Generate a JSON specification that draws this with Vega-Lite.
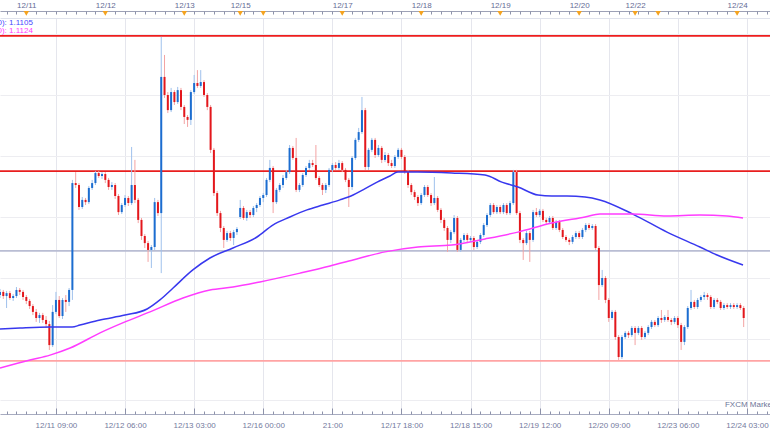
{
 "$schema": "https://vega.github.io/schema/vega-lite/v6.json",
 "width": 770, "height": 396,
 "autosize": {"type": "none"},
 "padding": {"left": 0, "right": 0, "top": 18, "bottom": 19},
 "background": "#ffffff",
 "config": {"view": {"stroke": null}, "font": "Liberation Sans"},
 "datasets": {
  "candles": [
{"i":-17,"o":1.10930,"h":1.10955,"l":1.10918,"c":1.10943},
{"i":-16,"o":1.10943,"h":1.10951,"l":1.10914,"c":1.10926},
{"i":-15,"o":1.10926,"h":1.10947,"l":1.10877,"c":1.10938},
{"i":-14,"o":1.10938,"h":1.10947,"l":1.10910,"c":1.10918},
{"i":-13,"o":1.10918,"h":1.10934,"l":1.10906,"c":1.10926},
{"i":-12,"o":1.10926,"h":1.10963,"l":1.10918,"c":1.10951},
{"i":-11,"o":1.10951,"h":1.10959,"l":1.10930,"c":1.10943},
{"i":-10,"o":1.10943,"h":1.10951,"l":1.10910,"c":1.10922},
{"i":-9,"o":1.10922,"h":1.10930,"l":1.10893,"c":1.10906},
{"i":-8,"o":1.10906,"h":1.10914,"l":1.10873,"c":1.10885},
{"i":-7,"o":1.10885,"h":1.10893,"l":1.10848,"c":1.10861},
{"i":-6,"o":1.10861,"h":1.10873,"l":1.10820,"c":1.10836},
{"i":-5,"o":1.10836,"h":1.10857,"l":1.10816,"c":1.10848},
{"i":-4,"o":1.10848,"h":1.10857,"l":1.10816,"c":1.10828},
{"i":-3,"o":1.10828,"h":1.10844,"l":1.10795,"c":1.10811},
{"i":-2,"o":1.10811,"h":1.10824,"l":1.10705,"c":1.10725},
{"i":-1,"o":1.10725,"h":1.10889,"l":1.10717,"c":1.10861},
{"i":0,"o":1.10861,"h":1.10943,"l":1.10852,"c":1.10910},
{"i":1,"o":1.10910,"h":1.10926,"l":1.10836,"c":1.10844},
{"i":2,"o":1.10844,"h":1.10918,"l":1.10832,"c":1.10910},
{"i":3,"o":1.10910,"h":1.10930,"l":1.10861,"c":1.10902},
{"i":4,"o":1.10902,"h":1.10959,"l":1.10885,"c":1.10951},
{"i":5,"o":1.10951,"h":1.11402,"l":1.10910,"c":1.11389},
{"i":6,"o":1.11389,"h":1.11434,"l":1.11369,"c":1.11381},
{"i":7,"o":1.11381,"h":1.11389,"l":1.11279,"c":1.11291},
{"i":8,"o":1.11291,"h":1.11332,"l":1.11283,"c":1.11320},
{"i":9,"o":1.11320,"h":1.11328,"l":1.11299,"c":1.11311},
{"i":10,"o":1.11311,"h":1.11377,"l":1.11303,"c":1.11369},
{"i":11,"o":1.11369,"h":1.11402,"l":1.11361,"c":1.11389},
{"i":12,"o":1.11389,"h":1.11438,"l":1.11381,"c":1.11430},
{"i":13,"o":1.11430,"h":1.11438,"l":1.11410,"c":1.11418},
{"i":14,"o":1.11418,"h":1.11434,"l":1.11406,"c":1.11426},
{"i":15,"o":1.11426,"h":1.11434,"l":1.11389,"c":1.11402},
{"i":16,"o":1.11402,"h":1.11410,"l":1.11361,"c":1.11373},
{"i":17,"o":1.11373,"h":1.11393,"l":1.11361,"c":1.11381},
{"i":18,"o":1.11381,"h":1.11389,"l":1.11324,"c":1.11336},
{"i":19,"o":1.11336,"h":1.11344,"l":1.11258,"c":1.11270},
{"i":20,"o":1.11270,"h":1.11307,"l":1.11262,"c":1.11299},
{"i":21,"o":1.11299,"h":1.11340,"l":1.11291,"c":1.11328},
{"i":22,"o":1.11328,"h":1.11336,"l":1.11295,"c":1.11307},
{"i":23,"o":1.11307,"h":1.11537,"l":1.11299,"c":1.11381},
{"i":24,"o":1.11381,"h":1.11484,"l":1.11307,"c":1.11320},
{"i":25,"o":1.11320,"h":1.11328,"l":1.11225,"c":1.11238},
{"i":26,"o":1.11238,"h":1.11246,"l":1.11156,"c":1.11172},
{"i":27,"o":1.11172,"h":1.11180,"l":1.11123,"c":1.11143},
{"i":28,"o":1.11143,"h":1.11152,"l":1.11066,"c":1.11115},
{"i":29,"o":1.11115,"h":1.11135,"l":1.11041,"c":1.11127},
{"i":30,"o":1.11127,"h":1.11328,"l":1.11115,"c":1.11311},
{"i":31,"o":1.11311,"h":1.11320,"l":1.11254,"c":1.11266},
{"i":32,"o":1.11266,"h":1.11988,"l":1.11020,"c":1.11824},
{"i":33,"o":1.11824,"h":1.11914,"l":1.11738,"c":1.11750},
{"i":34,"o":1.11750,"h":1.11762,"l":1.11676,"c":1.11688},
{"i":35,"o":1.11688,"h":1.11779,"l":1.11680,"c":1.11762},
{"i":36,"o":1.11762,"h":1.11770,"l":1.11709,"c":1.11721},
{"i":37,"o":1.11721,"h":1.11783,"l":1.11713,"c":1.11770},
{"i":38,"o":1.11770,"h":1.11779,"l":1.11688,"c":1.11701},
{"i":39,"o":1.11701,"h":1.11709,"l":1.11631,"c":1.11660},
{"i":40,"o":1.11660,"h":1.11668,"l":1.11619,"c":1.11648},
{"i":41,"o":1.11648,"h":1.11770,"l":1.11627,"c":1.11762},
{"i":42,"o":1.11762,"h":1.11832,"l":1.11754,"c":1.11799},
{"i":43,"o":1.11799,"h":1.11852,"l":1.11779,"c":1.11787},
{"i":44,"o":1.11787,"h":1.11852,"l":1.11779,"c":1.11803},
{"i":45,"o":1.11803,"h":1.11811,"l":1.11742,"c":1.11750},
{"i":46,"o":1.11750,"h":1.11758,"l":1.11688,"c":1.11701},
{"i":47,"o":1.11701,"h":1.11709,"l":1.11512,"c":1.11525},
{"i":48,"o":1.11525,"h":1.11533,"l":1.11336,"c":1.11348},
{"i":49,"o":1.11348,"h":1.11357,"l":1.11254,"c":1.11266},
{"i":50,"o":1.11266,"h":1.11275,"l":1.11188,"c":1.11205},
{"i":51,"o":1.11205,"h":1.11213,"l":1.11123,"c":1.11156},
{"i":52,"o":1.11156,"h":1.11193,"l":1.11148,"c":1.11184},
{"i":53,"o":1.11184,"h":1.11193,"l":1.11152,"c":1.11164},
{"i":54,"o":1.11164,"h":1.11197,"l":1.11135,"c":1.11188},
{"i":55,"o":1.11188,"h":1.11209,"l":1.11176,"c":1.11201},
{"i":56,"o":1.11250,"h":1.11320,"l":1.11242,"c":1.11287},
{"i":57,"o":1.11287,"h":1.11295,"l":1.11238,"c":1.11246},
{"i":58,"o":1.11246,"h":1.11279,"l":1.11234,"c":1.11270},
{"i":59,"o":1.11270,"h":1.11279,"l":1.11246,"c":1.11258},
{"i":60,"o":1.11258,"h":1.11295,"l":1.11250,"c":1.11287},
{"i":61,"o":1.11287,"h":1.11307,"l":1.11270,"c":1.11299},
{"i":62,"o":1.11299,"h":1.11336,"l":1.11291,"c":1.11328},
{"i":63,"o":1.11328,"h":1.11348,"l":1.11311,"c":1.11340},
{"i":64,"o":1.11340,"h":1.11410,"l":1.11332,"c":1.11402},
{"i":65,"o":1.11402,"h":1.11484,"l":1.11393,"c":1.11451},
{"i":66,"o":1.11451,"h":1.11459,"l":1.11266,"c":1.11311},
{"i":67,"o":1.11311,"h":1.11369,"l":1.11303,"c":1.11361},
{"i":68,"o":1.11361,"h":1.11389,"l":1.11352,"c":1.11381},
{"i":69,"o":1.11381,"h":1.11422,"l":1.11369,"c":1.11410},
{"i":70,"o":1.11410,"h":1.11443,"l":1.11402,"c":1.11434},
{"i":71,"o":1.11434,"h":1.11545,"l":1.11426,"c":1.11533},
{"i":72,"o":1.11533,"h":1.11541,"l":1.11484,"c":1.11492},
{"i":73,"o":1.11492,"h":1.11574,"l":1.11352,"c":1.11361},
{"i":74,"o":1.11361,"h":1.11389,"l":1.11352,"c":1.11381},
{"i":75,"o":1.11381,"h":1.11430,"l":1.11373,"c":1.11422},
{"i":76,"o":1.11422,"h":1.11459,"l":1.11414,"c":1.11451},
{"i":77,"o":1.11451,"h":1.11484,"l":1.11443,"c":1.11471},
{"i":78,"o":1.11471,"h":1.11484,"l":1.11455,"c":1.11463},
{"i":79,"o":1.11463,"h":1.11545,"l":1.11402,"c":1.11410},
{"i":80,"o":1.11410,"h":1.11418,"l":1.11373,"c":1.11381},
{"i":81,"o":1.11381,"h":1.11389,"l":1.11340,"c":1.11361},
{"i":82,"o":1.11361,"h":1.11389,"l":1.11348,"c":1.11381},
{"i":83,"o":1.11381,"h":1.11451,"l":1.11373,"c":1.11443},
{"i":84,"o":1.11443,"h":1.11471,"l":1.11434,"c":1.11463},
{"i":85,"o":1.11463,"h":1.11475,"l":1.11443,"c":1.11451},
{"i":86,"o":1.11451,"h":1.11484,"l":1.11443,"c":1.11471},
{"i":87,"o":1.11471,"h":1.11479,"l":1.11434,"c":1.11443},
{"i":88,"o":1.11443,"h":1.11451,"l":1.11393,"c":1.11402},
{"i":89,"o":1.11402,"h":1.11410,"l":1.11291,"c":1.11373},
{"i":90,"o":1.11373,"h":1.11500,"l":1.11361,"c":1.11492},
{"i":91,"o":1.11492,"h":1.11574,"l":1.11484,"c":1.11566},
{"i":92,"o":1.11566,"h":1.11615,"l":1.11557,"c":1.11598},
{"i":93,"o":1.11598,"h":1.11742,"l":1.11590,"c":1.11688},
{"i":94,"o":1.11688,"h":1.11697,"l":1.11443,"c":1.11455},
{"i":95,"o":1.11455,"h":1.11533,"l":1.11443,"c":1.11525},
{"i":96,"o":1.11525,"h":1.11574,"l":1.11516,"c":1.11566},
{"i":97,"o":1.11566,"h":1.11574,"l":1.11492,"c":1.11504},
{"i":98,"o":1.11504,"h":1.11545,"l":1.11496,"c":1.11533},
{"i":99,"o":1.11533,"h":1.11541,"l":1.11471,"c":1.11484},
{"i":100,"o":1.11484,"h":1.11516,"l":1.11475,"c":1.11504},
{"i":101,"o":1.11504,"h":1.11512,"l":1.11459,"c":1.11471},
{"i":102,"o":1.11471,"h":1.11484,"l":1.11451,"c":1.11459},
{"i":103,"o":1.11459,"h":1.11504,"l":1.11451,"c":1.11496},
{"i":104,"o":1.11496,"h":1.11533,"l":1.11488,"c":1.11525},
{"i":105,"o":1.11525,"h":1.11533,"l":1.11488,"c":1.11496},
{"i":106,"o":1.11496,"h":1.11504,"l":1.11426,"c":1.11434},
{"i":107,"o":1.11434,"h":1.11443,"l":1.11369,"c":1.11381},
{"i":108,"o":1.11381,"h":1.11389,"l":1.11340,"c":1.11352},
{"i":109,"o":1.11352,"h":1.11361,"l":1.11320,"c":1.11332},
{"i":110,"o":1.11332,"h":1.11340,"l":1.11295,"c":1.11307},
{"i":111,"o":1.11307,"h":1.11348,"l":1.11299,"c":1.11340},
{"i":112,"o":1.11340,"h":1.11381,"l":1.11332,"c":1.11373},
{"i":113,"o":1.11373,"h":1.11381,"l":1.11332,"c":1.11340},
{"i":114,"o":1.11340,"h":1.11348,"l":1.11295,"c":1.11307},
{"i":115,"o":1.11307,"h":1.11414,"l":1.11299,"c":1.11328},
{"i":116,"o":1.11328,"h":1.11336,"l":1.11270,"c":1.11279},
{"i":117,"o":1.11279,"h":1.11287,"l":1.11225,"c":1.11238},
{"i":118,"o":1.11238,"h":1.11246,"l":1.11193,"c":1.11205},
{"i":119,"o":1.11205,"h":1.11213,"l":1.11107,"c":1.11156},
{"i":120,"o":1.11156,"h":1.11197,"l":1.11143,"c":1.11188},
{"i":121,"o":1.11188,"h":1.11258,"l":1.11180,"c":1.11246},
{"i":122,"o":1.11246,"h":1.11254,"l":1.11107,"c":1.11115},
{"i":123,"o":1.11115,"h":1.11164,"l":1.11107,"c":1.11156},
{"i":124,"o":1.11156,"h":1.11184,"l":1.11148,"c":1.11176},
{"i":125,"o":1.11176,"h":1.11184,"l":1.11143,"c":1.11156},
{"i":126,"o":1.11156,"h":1.11172,"l":1.11148,"c":1.11164},
{"i":127,"o":1.11164,"h":1.11172,"l":1.11115,"c":1.11127},
{"i":128,"o":1.11127,"h":1.11156,"l":1.11119,"c":1.11148},
{"i":129,"o":1.11148,"h":1.11184,"l":1.11139,"c":1.11176},
{"i":130,"o":1.11176,"h":1.11225,"l":1.11168,"c":1.11217},
{"i":131,"o":1.11217,"h":1.11266,"l":1.11209,"c":1.11258},
{"i":132,"o":1.11258,"h":1.11307,"l":1.11250,"c":1.11299},
{"i":133,"o":1.11299,"h":1.11307,"l":1.11262,"c":1.11270},
{"i":134,"o":1.11270,"h":1.11299,"l":1.11262,"c":1.11291},
{"i":135,"o":1.11291,"h":1.11299,"l":1.11262,"c":1.11270},
{"i":136,"o":1.11270,"h":1.11307,"l":1.11262,"c":1.11299},
{"i":137,"o":1.11299,"h":1.11307,"l":1.11258,"c":1.11266},
{"i":138,"o":1.11266,"h":1.11316,"l":1.11258,"c":1.11307},
{"i":139,"o":1.11307,"h":1.11443,"l":1.11299,"c":1.11434},
{"i":140,"o":1.11434,"h":1.11443,"l":1.11258,"c":1.11266},
{"i":141,"o":1.11266,"h":1.11275,"l":1.11143,"c":1.11156},
{"i":142,"o":1.11156,"h":1.11164,"l":1.11074,"c":1.11143},
{"i":143,"o":1.11143,"h":1.11193,"l":1.11135,"c":1.11184},
{"i":144,"o":1.11184,"h":1.11193,"l":1.11066,"c":1.11156},
{"i":145,"o":1.11156,"h":1.11279,"l":1.11148,"c":1.11270},
{"i":146,"o":1.11270,"h":1.11287,"l":1.11250,"c":1.11258},
{"i":147,"o":1.11258,"h":1.11283,"l":1.11250,"c":1.11275},
{"i":148,"o":1.11275,"h":1.11283,"l":1.11229,"c":1.11238},
{"i":149,"o":1.11238,"h":1.11246,"l":1.11217,"c":1.11229},
{"i":150,"o":1.11229,"h":1.11254,"l":1.11221,"c":1.11246},
{"i":151,"o":1.11246,"h":1.11254,"l":1.11197,"c":1.11205},
{"i":152,"o":1.11205,"h":1.11238,"l":1.11197,"c":1.11229},
{"i":153,"o":1.11229,"h":1.11238,"l":1.11188,"c":1.11197},
{"i":154,"o":1.11197,"h":1.11205,"l":1.11160,"c":1.11168},
{"i":155,"o":1.11168,"h":1.11176,"l":1.11148,"c":1.11156},
{"i":156,"o":1.11156,"h":1.11164,"l":1.11135,"c":1.11148},
{"i":157,"o":1.11148,"h":1.11176,"l":1.11139,"c":1.11168},
{"i":158,"o":1.11168,"h":1.11193,"l":1.11160,"c":1.11184},
{"i":159,"o":1.11184,"h":1.11193,"l":1.11160,"c":1.11168},
{"i":160,"o":1.11168,"h":1.11205,"l":1.11160,"c":1.11197},
{"i":161,"o":1.11197,"h":1.11225,"l":1.11188,"c":1.11217},
{"i":162,"o":1.11217,"h":1.11225,"l":1.11197,"c":1.11205},
{"i":163,"o":1.11205,"h":1.11221,"l":1.11197,"c":1.11213},
{"i":164,"o":1.11213,"h":1.11221,"l":1.11115,"c":1.11123},
{"i":165,"o":1.11123,"h":1.11131,"l":1.10910,"c":1.10971},
{"i":166,"o":1.10971,"h":1.11033,"l":1.10963,"c":1.11000},
{"i":167,"o":1.11000,"h":1.11008,"l":1.10897,"c":1.10910},
{"i":168,"o":1.10910,"h":1.10918,"l":1.10820,"c":1.10836},
{"i":169,"o":1.10836,"h":1.10869,"l":1.10828,"c":1.10861},
{"i":170,"o":1.10861,"h":1.10869,"l":1.10746,"c":1.10758},
{"i":171,"o":1.10758,"h":1.10766,"l":1.10664,"c":1.10676},
{"i":172,"o":1.10676,"h":1.10766,"l":1.10668,"c":1.10758},
{"i":173,"o":1.10758,"h":1.10783,"l":1.10750,"c":1.10775},
{"i":174,"o":1.10775,"h":1.10783,"l":1.10754,"c":1.10766},
{"i":175,"o":1.10766,"h":1.10803,"l":1.10758,"c":1.10795},
{"i":176,"o":1.10795,"h":1.10803,"l":1.10725,"c":1.10775},
{"i":177,"o":1.10775,"h":1.10803,"l":1.10766,"c":1.10795},
{"i":178,"o":1.10795,"h":1.10803,"l":1.10746,"c":1.10758},
{"i":179,"o":1.10758,"h":1.10783,"l":1.10750,"c":1.10775},
{"i":180,"o":1.10775,"h":1.10807,"l":1.10766,"c":1.10799},
{"i":181,"o":1.10799,"h":1.10828,"l":1.10791,"c":1.10820},
{"i":182,"o":1.10820,"h":1.10828,"l":1.10799,"c":1.10807},
{"i":183,"o":1.10807,"h":1.10844,"l":1.10799,"c":1.10836},
{"i":184,"o":1.10836,"h":1.10869,"l":1.10816,"c":1.10828},
{"i":185,"o":1.10828,"h":1.10848,"l":1.10820,"c":1.10840},
{"i":186,"o":1.10840,"h":1.10869,"l":1.10820,"c":1.10828},
{"i":187,"o":1.10828,"h":1.10836,"l":1.10807,"c":1.10820},
{"i":188,"o":1.10820,"h":1.10844,"l":1.10811,"c":1.10836},
{"i":189,"o":1.10836,"h":1.10844,"l":1.10795,"c":1.10807},
{"i":190,"o":1.10807,"h":1.10816,"l":1.10705,"c":1.10738},
{"i":191,"o":1.10738,"h":1.10807,"l":1.10725,"c":1.10799},
{"i":192,"o":1.10799,"h":1.10885,"l":1.10791,"c":1.10877},
{"i":193,"o":1.10877,"h":1.10951,"l":1.10869,"c":1.10902},
{"i":194,"o":1.10902,"h":1.10910,"l":1.10873,"c":1.10881},
{"i":195,"o":1.10881,"h":1.10918,"l":1.10873,"c":1.10910},
{"i":196,"o":1.10910,"h":1.10930,"l":1.10902,"c":1.10922},
{"i":197,"o":1.10922,"h":1.10943,"l":1.10910,"c":1.10930},
{"i":198,"o":1.10930,"h":1.10938,"l":1.10910,"c":1.10922},
{"i":199,"o":1.10922,"h":1.10930,"l":1.10873,"c":1.10881},
{"i":200,"o":1.10881,"h":1.10918,"l":1.10873,"c":1.10910},
{"i":201,"o":1.10910,"h":1.10918,"l":1.10893,"c":1.10902},
{"i":202,"o":1.10902,"h":1.10910,"l":1.10869,"c":1.10877},
{"i":203,"o":1.10877,"h":1.10897,"l":1.10869,"c":1.10889},
{"i":204,"o":1.10889,"h":1.10897,"l":1.10873,"c":1.10881},
{"i":205,"o":1.10881,"h":1.10897,"l":1.10873,"c":1.10889},
{"i":206,"o":1.10889,"h":1.10897,"l":1.10873,"c":1.10881},
{"i":207,"o":1.10881,"h":1.10897,"l":1.10873,"c":1.10889},
{"i":208,"o":1.10889,"h":1.10897,"l":1.10869,"c":1.10877},
{"i":209,"o":1.10877,"h":1.10885,"l":1.10799,"c":1.10836}
  ],
  "ma100": [
{"i":-17,"v":1.10791},{"i":-10.9,"v":1.10795},{"i":-1.8,"v":1.10799},{"i":4.9,"v":1.10799},{"i":7.3,"v":1.10807},{"i":13.4,"v":1.10828},{"i":21,"v":1.10848},{"i":27.7,"v":1.10873},{"i":31.6,"v":1.10910},{"i":35.6,"v":1.10959},{"i":41.6,"v":1.11033},{"i":46.8,"v":1.11082},{"i":53.8,"v":1.11123},{"i":61.1,"v":1.11168},{"i":65.9,"v":1.11217},{"i":71.1,"v":1.11250},{"i":76.3,"v":1.11279},{"i":81.1,"v":1.11299},{"i":86.3,"v":1.11320},{"i":90.3,"v":1.11340},{"i":93.3,"v":1.11361},{"i":97.6,"v":1.11393},{"i":101.5,"v":1.11418},{"i":103.9,"v":1.11434},{"i":110,"v":1.11434},{"i":120.3,"v":1.11430},{"i":130.4,"v":1.11422},{"i":135.5,"v":1.11393},{"i":140.4,"v":1.11373},{"i":146.5,"v":1.11340},{"i":150.7,"v":1.11336},{"i":155.3,"v":1.11336},{"i":160.8,"v":1.11332},{"i":165.3,"v":1.11320},{"i":175.3,"v":1.11262},{"i":185.7,"v":1.11188},{"i":195.7,"v":1.11127},{"i":200.9,"v":1.11094},{"i":208.8,"v":1.11053}
  ],
  "ma200": [
{"i":-17,"v":1.10631},{"i":-7.9,"v":1.10664},{"i":-1.8,"v":1.10684},{"i":4.3,"v":1.10713},{"i":13.4,"v":1.10775},{"i":21,"v":1.10820},{"i":28.6,"v":1.10861},{"i":38.6,"v":1.10918},{"i":46.8,"v":1.10951},{"i":53.8,"v":1.10963},{"i":62,"v":1.10984},{"i":74.2,"v":1.11020},{"i":83.3,"v":1.11049},{"i":90.3,"v":1.11074},{"i":100,"v":1.11107},{"i":110,"v":1.11127},{"i":120.3,"v":1.11135},{"i":130.4,"v":1.11160},{"i":140.4,"v":1.11188},{"i":150.7,"v":1.11225},{"i":160.8,"v":1.11250},{"i":165.3,"v":1.11262},{"i":175.3,"v":1.11262},{"i":185.7,"v":1.11254},{"i":195.7,"v":1.11258},{"i":203.9,"v":1.11254},{"i":208.8,"v":1.11246}
  ],
  "levels": [
{"k":"resistance 2","v":1.11992},{"k":"resistance 1","v":1.11438},{"k":"pivot","v":1.11111},{"k":"support","v":1.10660}
  ],
  "days": [
{"i":-9},{"i":15},{"i":39},{"i":56},{"i":63},{"i":87},{"i":111},{"i":135},{"i":159},{"i":176},{"i":183},{"i":207}
  ],
  "malabels": [
{"i":-7,"v":1.12045,"t":"MA(100): 1.1105","k":"ma100"},{"i":-7,"v":1.12012,"t":"MA(200): 1.1124","k":"ma200"}
  ],
  "source": [
{"i":203.3,"v":1.10480,"t":"FXCM Markets"}
  ]
 },
 "resolve": {"axis": {"x": "independent", "y": "independent"}, "scale": {"color": "independent"}},
 "layer": [
  {
   "data": {"name": "levels"},
   "mark": {"type": "rule", "strokeWidth": 1.8},
   "encoding": {
    "y": {"field": "v", "type": "quantitative", "scale": {"domain": [1.104426, 1.120655], "nice": false, "zero": false}, "axis": null},
    "color": {"field": "k", "type": "nominal", "legend": null,
      "scale": {"domain": ["resistance 2", "resistance 1", "pivot", "support"], "range": ["#ee1d1d", "#e81e1e", "#b9bdd3", "#ffa4a4"]}}
   }
  },
  {
   "data": {"name": "candles"},
   "mark": {"type": "rule", "strokeWidth": 1},
   "encoding": {
    "x": {"field": "i", "type": "quantitative", "scale": {"domain": [-17, 217], "nice": false, "zero": false, "padding": 0},
      "axis": {"orient": "bottom", "title": null, "values": [0,21,42,63,84,105,126,147,168,189,210],
        "labelExpr": "['12/11 09:00','12/12 06:00','12/13 03:00','12/16 00:00','21:00','12/17 18:00','12/18 15:00','12/19 12:00','12/20 09:00','12/23 06:00','12/24 03:00'][round(datum.value/21)]",
        "tickSize": 0, "labelPadding": 7, "labelFontSize": 8, "labelFont": "Liberation Sans", "labelColor": "#737a9e",
        "labelOverlap": false, "labelFlush": false, "labelBound": false,
        "domain": true, "domainColor": "#a7abc0", "domainWidth": 1,
        "grid": true, "gridColor": "#e5e6ed", "gridWidth": 1}},
    "y": {"field": "l", "type": "quantitative", "scale": {"domain": [1.104426, 1.120655], "nice": false, "zero": false},
      "axis": {"orient": "right", "title": null, "values": [1.105, 1.1075, 1.11, 1.1125, 1.115, 1.1175, 1.12],
        "labels": false, "ticks": false, "domain": false, "grid": true, "gridColor": "#ededf1", "gridWidth": 1}},
    "y2": {"field": "h"},
    "color": {"condition": {"test": "datum.c >= datum.o", "value": "#9fc1ec"}, "value": "#f3a3a3"}
   }
  },
  {
   "data": {"name": "candles"},
   "mark": {"type": "bar", "width": 2},
   "encoding": {
    "x": {"field": "i", "type": "quantitative", "scale": {"domain": [-17, 217], "nice": false, "zero": false, "padding": 0},
      "axis": {"orient": "bottom", "title": null, "values": [0,21,42,63,84,105,126,147,168,189,210],
        "tickSize": -6, "tickColor": "#8d92aa", "labels": false, "domain": false, "grid": false}},
    "y": {"field": "o", "type": "quantitative", "scale": {"domain": [1.104426, 1.120655], "nice": false, "zero": false}, "axis": null},
    "y2": {"field": "c"},
    "color": {"condition": {"test": "datum.c >= datum.o", "value": "#1c6dd0"}, "value": "#e3171c"}
   }
  },
  {
   "data": {"name": "ma100"},
   "mark": {"type": "line", "strokeWidth": 1.5, "color": "#3838ee", "interpolate": "monotone"},
   "encoding": {
    "x": {"field": "i", "type": "quantitative", "scale": {"domain": [-17, 217], "nice": false, "zero": false, "padding": 0},
      "axis": {"orient": "bottom", "title": null, "values": [-15,-12,-9,-6,-3,0,3,6,9,12,15,18,21,24,27,30,33,36,39,42,45,48,51,54,57,60,63,66,69,72,75,78,81,84,87,90,93,96,99,102,105,108,111,114,117,120,123,126,129,132,135,138,141,144,147,150,153,156,159,162,165,168,171,174,177,180,183,186,189,192,195,198,201,204,207,210,213,216],
        "tickSize": -3, "tickColor": "#8d92aa", "labels": false, "domain": false, "grid": false}},
    "y": {"field": "v", "type": "quantitative", "scale": {"domain": [1.104426, 1.120655], "nice": false, "zero": false}, "axis": null}
   }
  },
  {
   "data": {"name": "ma200"},
   "mark": {"type": "line", "strokeWidth": 1.5, "color": "#ff3cff", "interpolate": "monotone"},
   "encoding": {
    "x": {"field": "i", "type": "quantitative", "scale": {"domain": [-17, 217], "nice": false, "zero": false, "padding": 0},
      "axis": {"orient": "top", "offset": 7, "title": null, "values": [-9,15,39,56,87,111,135,159,176,207],
        "labelExpr": "datum.value==-9?'12/11':datum.value==15?'12/12':datum.value==39?'12/13':datum.value==56?'12/15':datum.value==87?'12/17':datum.value==111?'12/18':datum.value==135?'12/19':datum.value==159?'12/20':datum.value==176?'12/22':'12/24'",
        "tickSize": 0, "labelPadding": 2, "labelFontSize": 8, "labelFont": "Liberation Sans", "labelColor": "#656c96",
        "labelOverlap": false, "labelFlush": false, "labelBound": false,
        "domain": true, "domainColor": "#9da1b6", "domainWidth": 1, "grid": false}},
    "y": {"field": "v", "type": "quantitative", "scale": {"domain": [1.104426, 1.120655], "nice": false, "zero": false}, "axis": null}
   }
  },
  {
   "data": {"name": "days"},
   "mark": {"type": "point", "shape": "triangle-down", "filled": true, "size": 30, "color": "#f5a31f", "opacity": 1},
   "encoding": {
    "x": {"field": "i", "type": "quantitative", "scale": {"domain": [-17, 217], "nice": false, "zero": false, "padding": 0},
      "axis": {"orient": "top", "offset": 7, "title": null, "values": [-15,-12,-9,-6,-3,0,3,6,9,12,15,18,21,24,27,30,33,36,39,42,45,48,51,54,57,60,63,66,69,72,75,78,81,84,87,90,93,96,99,102,105,108,111,114,117,120,123,126,129,132,135,138,141,144,147,150,153,156,159,162,165,168,171,174,177,180,183,186,189,192,195,198,201,204,207,210,213,216],
        "tickSize": -3, "tickColor": "#8d92aa", "labels": false, "domain": false, "grid": false}},
    "y": {"datum": 1.12084, "type": "quantitative", "scale": {"domain": [1.104426, 1.120655], "nice": false, "zero": false}, "axis": null}
   }
  },
  {
   "data": {"name": "malabels"},
   "mark": {"type": "text", "align": "right", "baseline": "middle", "fontSize": 8, "font": "Liberation Sans"},
   "encoding": {
    "x": {"field": "i", "type": "quantitative", "scale": {"domain": [-17, 217], "nice": false, "zero": false, "padding": 0},
      "axis": {"orient": "top", "offset": 0, "title": null, "ticks": false, "labels": false, "grid": false, "domain": true, "domainColor": "#dfe2ec"}},
    "y": {"field": "v", "type": "quantitative", "scale": {"domain": [1.104426, 1.120655], "nice": false, "zero": false}, "axis": null},
    "text": {"field": "t"},
    "color": {"field": "k", "type": "nominal", "legend": null, "scale": {"domain": ["ma100", "ma200"], "range": ["#4747ff", "#ff3cff"]}}
   }
  },
  {
   "data": {"name": "source"},
   "mark": {"type": "text", "align": "left", "baseline": "middle", "fontSize": 8, "font": "Liberation Sans", "color": "#6d7598"},
   "encoding": {
    "x": {"field": "i", "type": "quantitative", "scale": {"domain": [-17, 217], "nice": false, "zero": false, "padding": 0}, "axis": null},
    "y": {"field": "v", "type": "quantitative", "scale": {"domain": [1.104426, 1.120655], "nice": false, "zero": false}, "axis": null},
    "text": {"field": "t"}
   }
  }
 ]
}
